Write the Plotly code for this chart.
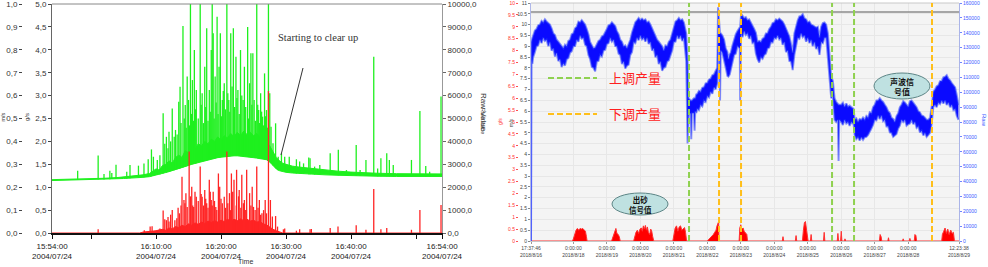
import plotly.graph_objects as go
import pandas as pd

# ================= LEFT CHART (2004/07/24) =================
L_START = "2004-07-24 15:54:00"
L_END = "2004-07-24 16:54:00"

# green raw-value noise band: minutes after 15:54, lower / upper edge (Raw Value)
green_band_min = [0, 2, 4, 6, 8, 10, 11, 12, 13, 14, 15, 15.5, 16, 16.5, 17, 17.5, 18, 18.5, 19, 19.5,
                  20, 20.5, 21, 21.5, 22, 22.5, 23, 23.5, 24, 24.5, 25, 25.5, 26, 26.5, 27, 27.5, 28,
                  28.5, 29, 29.5, 30, 30.5, 31, 31.5, 32, 32.5, 33, 33.5, 34, 34.5, 35, 35.5, 36, 37,
                  38, 39, 40, 42, 44, 46, 48, 50, 53, 56, 60]
green_band_low = [2290, 2300, 2310, 2320, 2340, 2370, 2380, 2390, 2400, 2430, 2460, 2490, 2520, 2560, 2600,
                  2640, 2680, 2720, 2760, 2800, 2850, 2900, 2950, 3000, 3040, 3080, 3120, 3160, 3200, 3230,
                  3260, 3290, 3310, 3330, 3350, 3360, 3370, 3370, 3360, 3350, 3330, 3310, 3290, 3270, 3250,
                  3230, 3200, 3100, 2950, 2800, 2720, 2680, 2650, 2620, 2600, 2580, 2560, 2540, 2520, 2500,
                  2490, 2480, 2470, 2470, 2470]
green_band_high = [2330, 2340, 2350, 2370, 2390, 2420, 2450, 2470, 2500, 2540, 2600, 2700, 2800, 2750, 2950,
                   3000, 3150, 3050, 3300, 3400, 3300, 3600, 3500, 3750, 3650, 3900, 3800, 4000, 3900, 4100,
                   4000, 4200, 4050, 4250, 4150, 4350, 4200, 4400, 4250, 4450, 4300, 4400, 4250, 4350, 4200,
                   4100, 4000, 3800, 3550, 3300, 3150, 3050, 3000, 2920, 2880, 2850, 2800, 2740, 2700, 2660,
                   2630, 2610, 2590, 2580, 2580]

# green spikes: minute, foot, top (Raw Value)
green_spike_min = [3.95, 7.1, 8.0, 8.9, 9.2, 9.85, 11.5, 12.0, 13.3, 14.15, 14.8, 15.3, 15.6, 16.2, 16.6,
                   17.1, 17.35, 17.6, 17.85, 18.0, 18.25, 18.5, 18.8, 19.0, 19.25, 19.5, 19.7, 19.85, 20.15,
                   20.35, 20.5, 20.65, 20.8, 21.0, 21.15, 21.3, 21.45, 21.6, 21.75, 21.9, 22.05, 22.2, 22.5,
                   22.8, 22.95, 23.1, 23.3, 23.5, 23.65, 23.8, 24.0, 24.2, 24.35, 24.5, 24.65, 24.8, 24.95,
                   25.1, 25.25, 25.4, 25.55, 25.7, 25.9, 26.05, 26.2, 26.35, 26.5, 26.7, 26.9, 27.05, 27.2,
                   27.35, 27.5, 27.7, 27.9, 28.1, 28.3, 28.45, 28.6, 28.8, 29.0, 29.2, 29.4, 29.6, 29.8, 30.1,
                   30.25, 30.4, 30.6, 30.75, 30.9, 31.1, 31.3, 31.5, 31.65, 31.8, 31.95, 32.1, 32.25, 32.4,
                   32.55, 32.7, 32.85, 33.0, 33.15, 33.3, 33.5, 33.7, 34.0, 34.4, 34.8, 35.3, 35.8, 36.5,
                   37.1, 37.6, 38.1, 38.7, 39.5, 39.7, 40.4, 41.2, 42.8, 44.05, 45.3, 46.8, 47.4, 48.3, 49.5,
                   50.1, 50.6, 51.5, 51.9, 52.5, 55.3, 56.6, 57.5, 58.1, 59.85]
green_spike_base = [2310, 2335, 2340, 2350, 2355, 2365, 2385, 2390, 2410, 2430, 2450, 2480, 2490, 2530, 2560,
                    2600, 2620, 2640, 2670, 2680, 2700, 2720, 2740, 2760, 2780, 2800, 2820, 2840, 2860,
                    2880, 2900, 2910, 2930, 2950, 2960, 2970, 2990, 3000, 3010, 3030, 3040, 3050, 3080,
                    3100, 3110, 3120, 3140, 3160, 3170, 3180, 3200, 3210, 3220, 3230, 3240, 3250, 3255,
                    3260, 3270, 3280, 3290, 3300, 3310, 3315, 3320, 3325, 3330, 3340, 3345, 3348, 3350,
                    3355, 3360, 3362, 3365, 3368, 3370, 3370, 3370, 3365, 3360, 3358, 3355, 3350, 3340, 3330,
                    3325, 3320, 3310, 3305, 3300, 3290, 3280, 3270, 3265, 3260, 3255, 3250, 3245, 3240,
                    3230, 3220, 3210, 3200, 3180, 3150, 3100, 3050, 2950, 2830, 2730, 2700, 2660, 2630,
                    2620, 2600, 2600, 2590, 2570, 2565, 2555, 2545, 2535, 2520, 2510, 2500, 2495, 2490, 2485,
                    2480, 2478, 2475, 2475, 2472, 2470, 2470, 2470, 2470, 2470]
green_spike_top = [2720, 3380, 2580, 2720, 2620, 2980, 2680, 2970, 2940, 3040, 3220, 3650, 3330, 3190, 3400,
                   5230, 3900, 4200, 3700, 4420, 4000, 5440, 4200, 4500, 4300, 5730, 6390, 4800, 9040,
                   5000, 5590, 4600, 6830, 5810, 4700, 10000, 5200, 6680, 4900, 7990, 5400, 6250, 5000,
                   10000, 5600, 6100, 4800, 7260, 5500, 8940, 4900, 6250, 5300, 7990, 10000, 8720, 5000,
                   6830, 5700, 9440, 5200, 7260, 8720, 5100, 5810, 6200, 6540, 5400, 10000, 6100, 5810,
                   5300, 8720, 6400, 8940, 5500, 7700, 5900, 6250, 5200, 7990, 6000, 5810, 7260, 5500, 9000,
                   5000, 6540, 7850, 5600, 7850, 5810, 4900, 10000, 5600, 5370, 4800, 6100, 5300, 5080,
                   4700, 6970, 5100, 5370, 4600, 10000, 6100, 4640, 3920, 4790, 3330, 3480, 3330, 3330,
                   2900, 3220, 3120, 3040, 3300, 3260, 2900, 2970, 3480, 3630, 2750, 3840, 2750, 3190, 7700,
                   2820, 3260, 3480, 3190, 2970, 3190, 5330, 2930, 2680, 5960]

# red g/s noise floor: minutes, value (g/s)
red_band_min = [0, 13.5, 14, 15, 16, 17, 17.5, 18, 18.5, 19, 19.5, 20, 20.5, 21, 21.5, 22, 22.5, 23, 23.5,
                24, 24.5, 25, 25.5, 26, 26.5, 27, 27.5, 28, 28.5, 29, 29.5, 30, 30.5, 31, 31.5, 32, 32.5,
                33, 33.5, 34, 34.5, 35, 35.5, 60]
red_band_val = [0, 0, 0.02, 0.03, 0.05, 0.08, 0.06, 0.11, 0.09, 0.14, 0.12, 0.17, 0.14, 0.2, 0.17, 0.22,
                0.19, 0.24, 0.21, 0.26, 0.23, 0.27, 0.24, 0.28, 0.25, 0.3, 0.26, 0.3, 0.27, 0.31, 0.27, 0.3,
                0.26, 0.28, 0.24, 0.25, 0.2, 0.18, 0.12, 0.08, 0.05, 0.02, 0, 0]

# red spikes: minute, top (g/s)
red_spike_min = [7.1, 14.2, 15.1, 15.4, 16.4, 16.6, 17.1, 17.35, 17.6, 17.85, 18.0, 18.25, 18.5, 18.9, 19.2,
                 19.4, 19.6, 19.85, 20.0, 20.3, 20.45, 20.6, 20.8, 21.1, 21.3, 21.5, 21.65, 21.8, 22.0, 22.2,
                 22.5, 22.8, 22.95, 23.1, 23.3, 23.5, 23.65, 23.8, 24.0, 24.2, 24.35, 24.5, 24.65, 24.8,
                 25.0, 25.2, 25.35, 25.6, 25.8, 26.0, 26.2, 26.5, 26.7, 26.9, 27.05, 27.3, 27.45, 27.6,
                 27.8, 28.0, 28.35, 28.4, 28.7, 28.8, 29.05, 29.2, 29.45, 29.6, 29.8, 29.95, 30.4, 30.6,
                 30.8, 31.0, 31.25, 31.5, 31.7, 31.9, 32.1, 32.3, 32.55, 32.8, 33.0, 33.3, 33.6, 33.9,
                 34.4, 34.7, 35.6, 35.8, 37.6, 38.1, 39.7, 39.9, 42.8, 44.0, 46.8, 48.3, 49.5, 50.6, 51.5,
                 55.3, 56.6, 59.85]
red_spike_val = [0.08, 0.06, 0.14, 0.15, 0.07, 0.1, 0.49, 0.3, 0.28, 0.35, 0.25, 0.4, 0.5, 0.28, 0.32,
                 0.55, 0.43, 0.6, 1.23, 0.72, 0.65, 0.87, 0.57, 1.78, 0.8, 1.01, 0.6, 0.57, 0.9, 0.79,
                 0.7, 1.45, 0.85, 0.79, 0.6, 0.94, 0.75, 0.65, 0.55, 1.16, 0.9, 0.72, 0.6, 0.9,
                 0.7, 0.57, 0.5, 1.3, 1.01, 0.75, 0.65, 0.79, 0.55, 1.78, 0.65, 0.87, 0.5, 1.3,
                 0.9, 1.16, 0.6, 1.38, 0.8, 0.94, 0.55, 1.27, 0.65, 0.72, 0.5, 1.38, 0.87, 0.6,
                 1.01, 0.57, 0.5, 1.45, 0.55, 0.72, 0.4, 0.43, 0.5, 0.72, 0.43, 3.1, 0.72, 0.36,
                 0.37, 0.14, 0.08, 0.1, 0.05, 0.08, 0.08, 0.09, 0.11, 0.14, 0.17, 0.07, 0.96, 0.08, 0.11,
                 0.07, 0.5, 0.61]

left_tick_times = ["2004-07-24 15:54:00", "2004-07-24 16:00:00", "2004-07-24 16:10:00",
                   "2004-07-24 16:20:00", "2004-07-24 16:30:00", "2004-07-24 16:40:00",
                   "2004-07-24 16:50:00", "2004-07-24 16:54:00"]
left_tick_text = ["15:54:00<br>2004/07/24", "", "16:10:00<br>2004/07/24", "16:20:00<br>2004/07/24",
                  "16:30:00<br>2004/07/24", "16:40:00<br>2004/07/24", "", "16:54:00<br>2004/07/24"]
raw_ticks = [0, 1000, 2000, 3000, 4000, 5000, 6000, 7000, 8000, 9000, 10000]
raw_tick_text = ["0,0", "1000,0", "2000,0", "3000,0", "4000,0", "5000,0", "6000,0", "7000,0",
                 "8000,0", "9000,0", "10000,0"]
gs_ticks = [0, 0.5, 1, 1.5, 2, 2.5, 3, 3.5, 4, 4.5, 5]
gs_tick_text = ["0,0", "0,5", "1,0", "1,5", "2,0", "2,5", "3,0", "3,5", "4,0", "4,5", "5,0"]
ms_ticks = [0, 0.1, 0.2, 0.3, 0.4, 0.5, 0.6, 0.7, 0.8, 0.9, 1.0]
ms_tick_text = ["0,0", "0,1", "0,2", "0,3", "0,4", "0,5", "0,6", "0,7", "0,8", "0,9", "1,0"]

# ================= RIGHT CHART (2018/8) =================
R_START = "2018-08-16 17:37:46"
R_END = "2018-08-29 12:23:38"
# days after 2018-08-16 00:00 ; acoustic raw value band (thousands)
blue_day = [0.7346, 0.745, 0.775, 0.80, 0.85, 0.90, 0.95, 1.00, 1.05, 1.10, 1.15, 1.20, 1.25, 1.30, 1.35,
            1.40, 1.45, 1.50, 1.55, 1.60, 1.65, 1.70, 1.75, 1.80, 1.85, 1.90, 1.95, 2.00, 2.05, 2.10,
            2.15, 2.20, 2.25, 2.30, 2.35, 2.40, 2.45, 2.50, 2.55, 2.60, 2.65, 2.70, 2.75, 2.80, 2.85,
            2.90, 2.95, 3.00, 3.05, 3.10, 3.15, 3.20, 3.25, 3.30, 3.35, 3.40, 3.45, 3.50, 3.55, 3.60,
            3.65, 3.70, 3.75, 3.80, 3.85, 3.90, 3.95, 4.00, 4.05, 4.10, 4.15, 4.20, 4.25, 4.30, 4.35,
            4.40, 4.45, 4.50, 4.55, 4.60, 4.65, 4.70, 4.75, 4.80, 4.85, 4.90, 4.95, 5.00, 5.05, 5.10,
            5.15, 5.20, 5.25, 5.30, 5.37, 5.41, 5.44, 5.50, 5.52, 5.54, 5.60, 5.62, 5.64, 5.67, 5.70,
            5.75, 5.80, 5.85, 5.90, 5.95, 6.00, 6.05, 6.10, 6.15, 6.20, 6.25, 6.30, 6.32, 6.36, 6.38,
            6.40, 6.45, 6.50, 6.55, 6.60, 6.63, 6.67, 6.70, 6.75, 6.80, 6.85, 6.90, 6.97, 6.98, 7.01,
            7.05, 7.10, 7.15, 7.20, 7.25, 7.30, 7.35, 7.40, 7.45, 7.50, 7.55, 7.60, 7.65, 7.70, 7.75,
            7.80, 7.85, 7.90, 7.95, 8.00, 8.05, 8.10, 8.15, 8.20, 8.25, 8.30, 8.35, 8.40, 8.45, 8.50,
            8.55, 8.60, 8.65, 8.70, 8.75, 8.80, 8.85, 8.90, 8.95, 9.00, 9.05, 9.10, 9.15, 9.20, 9.25,
            9.30, 9.35, 9.40, 9.45, 9.50, 9.55, 9.60, 9.65, 9.70, 9.75, 9.80, 9.85, 9.90, 9.92, 9.94,
            10.00, 10.05, 10.10, 10.15, 10.20, 10.25, 10.30, 10.37, 10.40, 10.45, 10.50, 10.55, 10.60,
            10.65, 10.70, 10.75, 10.80, 10.85, 10.90, 10.95, 11.00, 11.05, 11.10, 11.15, 11.20, 11.25,
            11.30, 11.35, 11.40, 11.45, 11.50, 11.55, 11.60, 11.65, 11.70, 11.75, 11.80, 11.85, 11.90,
            11.95, 12.00, 12.05, 12.10, 12.15, 12.20, 12.25, 12.30, 12.35, 12.40, 12.45, 12.50, 12.55,
            12.60, 12.65, 12.70, 12.75, 12.80, 12.85, 12.90, 12.95, 13.00, 13.05, 13.10, 13.15, 13.20,
            13.25, 13.30, 13.35, 13.40, 13.45, 13.50]
blue_low_k = [0, 122.2, 119.0, 123.6, 127.0, 130.9, 131.5, 135.3, 133.0, 136.7, 134.5, 135.3, 131.0, 133.8, 128.0,
              129.5, 124.0, 126.5, 121.0, 122.2, 117.0, 119.3, 118.0, 122.2, 123.0, 126.5, 127.5, 130.9, 131.0, 135.3,
              134.0, 138.2, 136.0, 136.7, 132.0, 130.9, 125.0, 122.2, 117.0, 116.4, 114.0, 120.7, 121.0, 125.1, 124.0,
              128.0, 128.5, 132.4, 133.0, 136.7, 134.0, 135.3, 131.0, 130.9, 126.0, 125.1, 119.0, 120.7, 116.0, 117.8,
              118.5, 125.1, 127.0, 133.8, 133.0, 136.7, 135.0, 138.2, 135.5, 136.7, 134.0, 136.7, 132.5, 133.8, 128.0,
              129.5, 123.5, 125.1, 119.0, 120.7, 114.5, 116.4, 117.0, 120.7, 121.5, 125.1, 128.0, 133.8, 134.0, 138.2,
              136.0, 138.2, 134.5, 136.7, 120.7, 65.5, 84.4, 85.8, 68.4, 85.8, 85.8, 74.2, 87.3, 86.0, 88.7,
              88.0, 91.6, 90.5, 94.5, 93.5, 97.5, 96.5, 100.4, 99.0, 103.3, 102.0, 106.2, 128.0, 128.0, 94.5,
              128.0, 126.5, 120.0, 116.4, 111.0, 110.5, 112.0, 114.9, 119.0, 125.1, 126.0, 130.9, 129.5, 94.5, 139.6,
              137.0, 141.1, 138.5, 139.6, 136.0, 138.2, 133.0, 133.8, 126.0, 122.2, 120.0, 123.6, 122.5, 125.1, 126.0,
              129.5, 130.0, 133.8, 133.5, 136.7, 136.0, 138.2, 135.5, 136.7, 132.0, 133.8, 127.0, 128.0, 121.0, 120.7,
              114.9, 125.1, 130.0, 136.7, 136.0, 139.6, 137.0, 138.2, 134.0, 136.7, 133.0, 135.3, 131.0, 133.8, 129.0,
              130.9, 125.1, 133.8, 133.0, 136.7, 136.7, 123.6, 110.5, 96.0, 97.5, 81.5, 80.0, 81.5, 53.8, 81.5,
              80.0, 78.0, 81.5, 79.0, 80.0, 77.5, 80.0, 78.5, 71.3, 68.5, 69.8, 67.5, 69.8,
              68.0, 69.8, 70.0, 71.3, 73.0, 75.6, 78.0, 81.5, 81.0, 84.4, 82.0, 84.4, 80.5,
              81.5, 77.0, 77.1, 73.0, 72.7, 70.0, 71.3, 72.0, 75.6, 77.5, 81.5, 80.0, 81.5,
              77.5, 78.5, 79.0, 81.5, 78.5, 80.0, 76.0, 77.1, 73.0, 74.2, 71.0, 72.7, 70.0,
              71.3, 72.7, 78.5, 90.2, 91.6, 90.0, 93.1, 92.0, 94.5, 92.5, 94.5, 91.5, 93.1,
              90.0, 91.6, 88.0, 88.7, 84.0, 81.5]
blue_high_k = [0, 133.8, 136.5, 138.2, 141.5, 142.5, 145.0, 145.5, 148.0, 146.9, 149.0, 147.6, 146.5, 145.5, 143.0,
               139.6, 138.5, 135.3, 134.0, 132.4, 131.5, 129.5, 132.0, 130.9, 134.5, 135.3, 139.0, 139.6, 143.0, 144.0,
               147.5, 146.9, 148.5, 146.9, 145.5, 142.5, 139.0, 133.8, 132.0, 129.5, 130.0, 132.4, 134.5, 135.3, 137.5,
               138.2, 141.0, 142.5, 145.0, 145.5, 147.0, 145.5, 144.5, 141.1, 139.0, 135.3, 134.0, 130.9, 131.5, 129.5,
               132.5, 135.3, 140.0, 144.0, 147.0, 148.4, 150.0, 148.4, 149.5, 148.4, 149.0, 146.9, 147.5, 145.5, 143.0,
               139.6, 138.0, 135.3, 134.0, 132.4, 131.0, 128.0, 131.5, 130.9, 134.0, 135.3, 140.0, 144.0, 147.5, 148.4,
               150.0, 148.4, 149.0, 146.9, 139.6, 122.2, 96.0, 94.5, 94.5, 94.5, 96.0, 96.0, 96.0, 98.5, 98.9,
               101.0, 100.4, 103.0, 103.3, 106.0, 106.2, 108.5, 109.1, 111.5, 112.0, 114.5, 116.4, 157.1, 139.6, 139.6,
               139.6, 138.2, 135.5, 129.5, 127.0, 122.2, 125.5, 126.5, 131.5, 135.3, 139.0, 141.1, 144.0, 144.0, 152.7,
               151.5, 149.8, 150.5, 148.4, 149.0, 146.9, 145.5, 142.5, 140.0, 133.8, 134.5, 133.8, 136.0, 136.7, 139.5,
               139.6, 142.5, 144.0, 146.5, 146.9, 149.0, 148.4, 149.5, 148.4, 147.5, 145.5, 143.0, 139.6, 137.5, 132.4,
               126.5, 139.6, 144.5, 148.4, 151.0, 151.3, 152.5, 149.8, 149.0, 146.9, 147.5, 145.5, 145.0, 144.0, 143.5,
               144.0, 136.7, 144.0, 146.5, 146.9, 145.5, 139.6, 122.2, 110.5, 107.6, 96.0, 93.5, 91.6, 91.6, 91.6,
               91.6, 93.0, 90.2, 92.5, 90.2, 91.0, 90.2, 88.7, 81.5, 82.5, 80.0, 82.0, 81.5,
               83.0, 81.5, 84.0, 82.9, 86.5, 85.8, 90.0, 91.6, 94.5, 94.5, 96.0, 94.5, 93.5,
               91.6, 90.0, 87.3, 86.0, 82.9, 82.0, 80.0, 84.0, 85.8, 90.0, 91.6, 94.0, 93.1,
               91.5, 90.2, 94.0, 94.5, 93.0, 91.6, 90.0, 87.3, 86.5, 84.4, 84.0, 82.9, 81.5,
               81.5, 82.9, 90.2, 100.4, 101.8, 104.0, 104.7, 107.5, 107.6, 110.0, 110.5, 111.5, 109.1,
               108.0, 106.2, 105.0, 103.3, 98.0, 91.6]

# sand signal (m/s axis units), days after 2018-08-16 00:00
sand_day = [0.7346, 1.95, 1.99, 2.02, 2.05, 2.08, 2.12, 2.16, 2.2, 2.24, 2.28, 2.32, 2.36, 2.39, 2.41,
            3.14, 3.17, 3.21, 3.25, 3.27, 3.3, 3.34, 3.37, 3.4,
            3.80, 3.83, 3.87, 3.91, 3.95, 3.99, 4.03, 4.06, 4.09, 4.12, 4.15, 4.18, 4.21, 4.24, 4.28,
            4.31, 4.34, 4.37, 4.40,
            4.97, 5.0, 5.04, 5.08, 5.12, 5.16, 5.2, 5.24, 5.28, 5.32, 5.35, 5.38,
            6.0, 6.03, 6.08, 6.13, 6.18, 6.22, 6.26, 6.29, 6.32, 6.34, 6.35,
            6.95, 6.97, 7.0, 7.03, 7.07, 7.1, 7.14, 7.18, 7.2,
            8.24, 8.26, 8.28, 8.63, 8.65, 8.67, 8.84, 8.87, 8.9, 8.93, 8.96, 8.99, 9.01,
            9.08, 9.1, 9.12, 9.47, 9.49, 9.51, 9.88, 9.9, 9.92, 9.98, 10.0, 10.02, 10.1, 10.11, 10.13,
            11.14, 11.16, 11.19, 11.21, 11.39, 11.41, 11.43, 11.83, 11.85, 11.87, 12.03, 12.05, 12.07,
            12.18, 12.2, 12.23, 12.25,
            13.0, 13.02, 13.06, 13.1, 13.14, 13.18, 13.22, 13.27, 13.31, 13.35, 13.38, 13.516]
sand_val = [0, 0, 0.05, 0.2, 0.35, 0.5, 0.58, 0.5, 0.58, 0.55, 0.58, 0.5, 0.45, 0.2, 0,
            0, 0.15, 0.3, 0.45, 0.58, 0.35, 0.3, 0.2, 0,
            0, 0.25, 0.4, 0.5, 0.35, 0.55, 0.6, 0.45, 0.7, 0.55, 0.72, 0.5, 0.65, 0.4, 0.3,
            0.55, 0.45, 0.2, 0,
            0, 0.3, 0.6, 0.7, 0.45, 0.65, 0.7, 0.5, 0.55, 0.62, 0.4, 0,
            0, 0.05, 0.15, 0.2, 0.3, 0.4, 0.5, 0.7, 0.85, 0.9, 0,
            0, 0.6, 0.75, 0.55, 0.6, 0.45, 0.35, 0.3, 0,
            0, 0.2, 0, 0, 0.25, 0, 0, 0.5, 0.85, 0.9, 0.5, 0.3, 0,
            0, 0.3, 0, 0, 0.4, 0, 0, 0.35, 0, 0, 0.45, 0, 0, 0.1, 0,
            0, 0.3, 0.2, 0, 0, 0.15, 0, 0, 0.1, 0, 0, 0.12, 0,
            0, 0.3, 0.25, 0,
            0, 0.3, 0.45, 0.6, 0.35, 0.55, 0.3, 0.5, 0.35, 0.4, 0, 0]

raise_times = [5.454, 9.725, 10.382]   # 上调产量 (green dashed)
lower_times = [6.35, 7.007, 12.71]     # 下调产量 (yellow dashed)
limit_level = 10.58

right_tick_times = ["2018-08-16 17:37:46", "2018-08-18", "2018-08-19", "2018-08-20", "2018-08-21",
                    "2018-08-22", "2018-08-23", "2018-08-24", "2018-08-25", "2018-08-26", "2018-08-27",
                    "2018-08-28", "2018-08-29 12:23:38"]
right_tick_text = ["17:37:46<br>2018/8/16", "0:00:00<br>2018/8/18", "0:00:00<br>2018/8/19",
                   "0:00:00<br>2018/8/20", "0:00:00<br>2018/8/21", "0:00:00<br>2018/8/22",
                   "0:00:00<br>2018/8/23", "0:00:00<br>2018/8/24", "0:00:00<br>2018/8/25",
                   "0:00:00<br>2018/8/26", "0:00:00<br>2018/8/27", "0:00:00<br>2018/8/28",
                   "12:23:38<br>2018/8/29"]
ms2_ticks = [i * 0.5 for i in range(23)]
ms2_text = ["%g" % v for v in ms2_ticks]
gs2_ticks = [i * 0.5 for i in range(21)]
gs2_text = ["%g" % v for v in gs2_ticks]
raw2_ticks = [i * 10000 for i in range(17)]
raw2_text = [str(v) for v in raw2_ticks]

# ================= build =================
L0 = pd.Timestamp("2004-07-24 15:54:00")
R0 = pd.Timestamp("2018-08-16 00:00:00")


def lt(m):
    return (L0 + pd.Timedelta(minutes=m)).isoformat()


def rt(d):
    return (R0 + pd.Timedelta(days=d)).isoformat()


def spikes(times, bases, tops):
    xs, ys = [], []
    for t, b, v in zip(times, bases, tops):
        xs += [t, t, None]
        ys += [b, v, None]
    return xs, ys


GREEN = "#1ef01e"
RED = "#ff2424"
BLUE = "#0a0aff"
BLUE_EDGE = "rgba(40,60,255,0.55)"
FONT = "Liberation Sans, Arial, sans-serif"

fig = go.Figure()
fig.add_trace(go.Scatter(x=[lt(m) for m in green_band_min], y=green_band_low, mode="lines",
                         line=dict(color=GREEN, width=1), xaxis="x", yaxis="y", hoverinfo="skip"))
fig.add_trace(go.Scatter(x=[lt(m) for m in green_band_min], y=green_band_high, mode="lines",
                         line=dict(color=GREEN, width=1), fill="tonexty", fillcolor=GREEN,
                         xaxis="x", yaxis="y", hoverinfo="skip"))
gx, gy = spikes([lt(m) for m in green_spike_min], green_spike_base, green_spike_top)
fig.add_trace(go.Scatter(x=gx, y=gy, mode="lines", line=dict(color=GREEN, width=1.3),
                         xaxis="x", yaxis="y", hoverinfo="skip"))
fig.add_trace(go.Scatter(x=[lt(m) for m in red_band_min], y=red_band_val, mode="lines",
                         line=dict(color=RED, width=1), fill="tozeroy", fillcolor=RED,
                         xaxis="x", yaxis="y2", hoverinfo="skip"))
rx, ry = spikes([lt(m) for m in red_spike_min], [0] * len(red_spike_min), red_spike_val)
fig.add_trace(go.Scatter(x=rx, y=ry, mode="lines", line=dict(color=RED, width=1.3),
                         xaxis="x", yaxis="y2", hoverinfo="skip"))
fig.add_trace(go.Scatter(x=[], y=[], xaxis="x", yaxis="y3", hoverinfo="skip"))

fig.add_trace(go.Scatter(x=[rt(d) for d in sand_day], y=sand_val, mode="lines",
                         line=dict(color="#ff3030", width=1), fill="tozeroy", fillcolor="#ff0000",
                         xaxis="x2", yaxis="y4", hoverinfo="skip"))
fig.add_trace(go.Scatter(x=[], y=[], xaxis="x2", yaxis="y5", hoverinfo="skip"))
fig.add_trace(go.Scatter(x=[rt(d) for d in blue_day], y=[v * 1000 for v in blue_low_k], mode="lines",
                         line=dict(color=BLUE_EDGE, width=2), xaxis="x2", yaxis="y6", hoverinfo="skip"))
fig.add_trace(go.Scatter(x=[rt(d) for d in blue_day], y=[v * 1000 for v in blue_high_k], mode="lines",
                         line=dict(color=BLUE_EDGE, width=2), fill="tonexty", fillcolor=BLUE,
                         xaxis="x2", yaxis="y6", hoverinfo="skip"))


def px(x):
    return x / 988.0


def py(y):
    return 1 - y / 267.0


LX = [px(52), px(442)]
LY = [py(233), py(4)]
RX = [px(531), px(959)]
RY = [py(241), py(3)]

small = dict(family=FONT, size=5, color="#444")
common = dict(automargin=False, showgrid=False, zeroline=False, ticklabeloverflow="allow")
lfont = dict(family=FONT, size=8, color="#333")

fig.update_layout(
    width=988, height=267, margin=dict(l=0, r=0, t=0, b=0, pad=0),
    paper_bgcolor="white", plot_bgcolor="#f4f4f4", showlegend=False,
    xaxis=dict(domain=LX, anchor="y", type="date", range=[L_START, L_END], tickvals=left_tick_times,
               ticktext=left_tick_text, tickangle=0, showline=True,
               linecolor="#111", linewidth=2, ticks="outside", ticklen=4, tickcolor="#111",
               tickfont=dict(family=FONT, size=8, color="#222"), **common),
    yaxis=dict(domain=LY, anchor="x", side="right", range=[0, 10000], tickvals=raw_ticks,
               ticktext=raw_tick_text, showline=True, linecolor="#999",
               ticks="outside", ticklen=3, tickcolor="#666", tickfont=lfont, **common),
    yaxis2=dict(overlaying="y", anchor="x", side="left", range=[0, 5], tickvals=gs_ticks,
                ticktext=gs_tick_text, showline=True, linecolor="#666",
                ticks="outside", ticklen=3, tickcolor="#444", tickfont=lfont, **common),
    yaxis3=dict(overlaying="y", anchor="free", position=px(22), side="left", range=[0, 1],
                tickvals=ms_ticks, ticktext=ms_tick_text, showline=False,
                ticks="outside", ticklen=3, tickcolor="#444", tickfont=lfont, **common),
    xaxis2=dict(domain=RX, anchor="y4", type="date", range=[R_START, R_END], tickvals=right_tick_times,
                ticktext=right_tick_text, tickangle=0, automargin=False, showgrid=True, gridcolor="#e7e7e7",
                zeroline=False, showline=True, linecolor="#c8c8c8", ticks="outside", ticklen=2,
                tickcolor="#999", tickfont=small, ticklabeloverflow="allow"),
    yaxis4=dict(domain=RY, anchor="x2", side="left", range=[0, 11], tickvals=ms2_ticks, ticktext=ms2_text,
                automargin=False, showgrid=True, gridcolor="#e7e7e7", zeroline=False, showline=True,
                linecolor="#b0b8e8", ticks="outside", ticklen=2, tickcolor="#888", tickfont=small,
                ticklabeloverflow="allow"),
    yaxis5=dict(overlaying="y4", anchor="free", position=px(518), side="left", range=[0, 10],
                tickvals=gs2_ticks, ticktext=gs2_text, showline=False,
                ticks="outside", ticklen=2, tickcolor="#ff5050",
                tickfont=dict(family=FONT, size=5, color="#ff3030"), **common),
    yaxis6=dict(overlaying="y4", anchor="x2", side="right", range=[0, 160000], tickvals=raw2_ticks,
                ticktext=raw2_text, showline=True, linecolor="#aab4e8",
                ticks="outside", ticklen=2, tickcolor="#6f86ff",
                tickfont=dict(family=FONT, size=5, color="#3b5bff"), **common),
)

shapes = []
shapes.append(dict(type="rect", xref="x domain", yref="y domain", x0=0, x1=1, y0=0, y1=1,
                   fillcolor="white", line=dict(width=0), layer="below"))
shapes.append(dict(type="line", xref="x domain", yref="y domain", x0=0, x1=1, y0=1, y1=1,
                   line=dict(color="#888", width=1)))
shapes.append(dict(type="line", xref="x2 domain", yref="y4 domain", x0=0, x1=1, y0=1, y1=1,
                   line=dict(color="#c8c8c8", width=1)))
shapes.append(dict(type="line", xref="x2 domain", yref="y4", x0=0, x1=1, y0=limit_level, y1=limit_level,
                   line=dict(color="#8c8c8c", width=1.5)))
for d in raise_times:
    shapes.append(dict(type="line", xref="x2", yref="y4 domain", x0=rt(d), x1=rt(d), y0=0, y1=1,
                       line=dict(color="#8fd14f", width=2, dash="6px,3px")))
for d in lower_times:
    shapes.append(dict(type="line", xref="x2", yref="y4 domain", x0=rt(d), x1=rt(d), y0=0, y1=1,
                       line=dict(color="#ffbf1a", width=2, dash="6px,3px")))
shapes.append(dict(type="line", xref="paper", yref="paper", x0=px(548), x1=px(597), y0=py(78), y1=py(78),
                   line=dict(color="#8fd14f", width=2, dash="6px,3px")))
shapes.append(dict(type="line", xref="paper", yref="paper", x0=px(548), x1=px(597), y0=py(114), y1=py(114),
                   line=dict(color="#ffbf1a", width=2, dash="6px,3px")))
shapes.append(dict(type="circle", xref="paper", yref="paper", x0=px(612), x1=px(668), y0=py(215), y1=py(193),
                   fillcolor="#bfe1e1", line=dict(color="#5d8586", width=1)))
shapes.append(dict(type="circle", xref="paper", yref="paper", x0=px(874), x1=px(930), y0=py(99), y1=py(73),
                   fillcolor="#bfe1e1", line=dict(color="#5d8586", width=1)))
shapes.append(dict(type="line", xref="paper", yref="paper", x0=px(303), x1=px(281), y0=py(68), y1=py(155),
                   line=dict(color="#333", width=1)))
fig.update_layout(shapes=shapes)

CJK = "Noto Sans CJK SC"
ann = []


def add(text, x, y, size, color="#333", angle=0, family=FONT, xanchor="center", bold=False):
    if bold:
        text = "<b>" + text + "</b>"
    ann.append(dict(text=text, x=px(x), y=py(y), xref="paper", yref="paper", showarrow=False,
                    textangle=angle, xanchor=xanchor, yanchor="middle",
                    font=dict(family=family, size=size, color=color)))


add("Starting to clear up", 276, 37, 10.5, "#333", family="Liberation Serif, Times New Roman, serif",
    xanchor="left")
add("m/s", 2.5, 117, 5.5, "#333", angle=-90)
add("g/s", 27, 117, 6, "#333", angle=-90)
add("Raw Value", 484, 112, 8, "#333", angle=90)
add("Time", 245, 261, 7, "#333")
add("Raw Value", 483, 121, 5.5, "#444", angle=90)
add("g/s", 500, 122, 5, "#ff3030", angle=-90)
add("m/s", 511, 122, 5, "#444", angle=-90)
add("Raw", 984, 120, 6, "#3b5bff", angle=90)
add("上调产量", 607, 77, 13, "#ff2020", family=CJK, xanchor="left")
add("下调产量", 607, 114, 13, "#ff2020", family=CJK, xanchor="left")
add("出砂<br>信号值", 640, 204, 7.5, "#111", family=CJK, bold=True)
add("声波信<br>号值", 902, 86, 8, "#111", family=CJK, bold=True)
fig.update_layout(annotations=ann)

fig.write_html("out.html")
